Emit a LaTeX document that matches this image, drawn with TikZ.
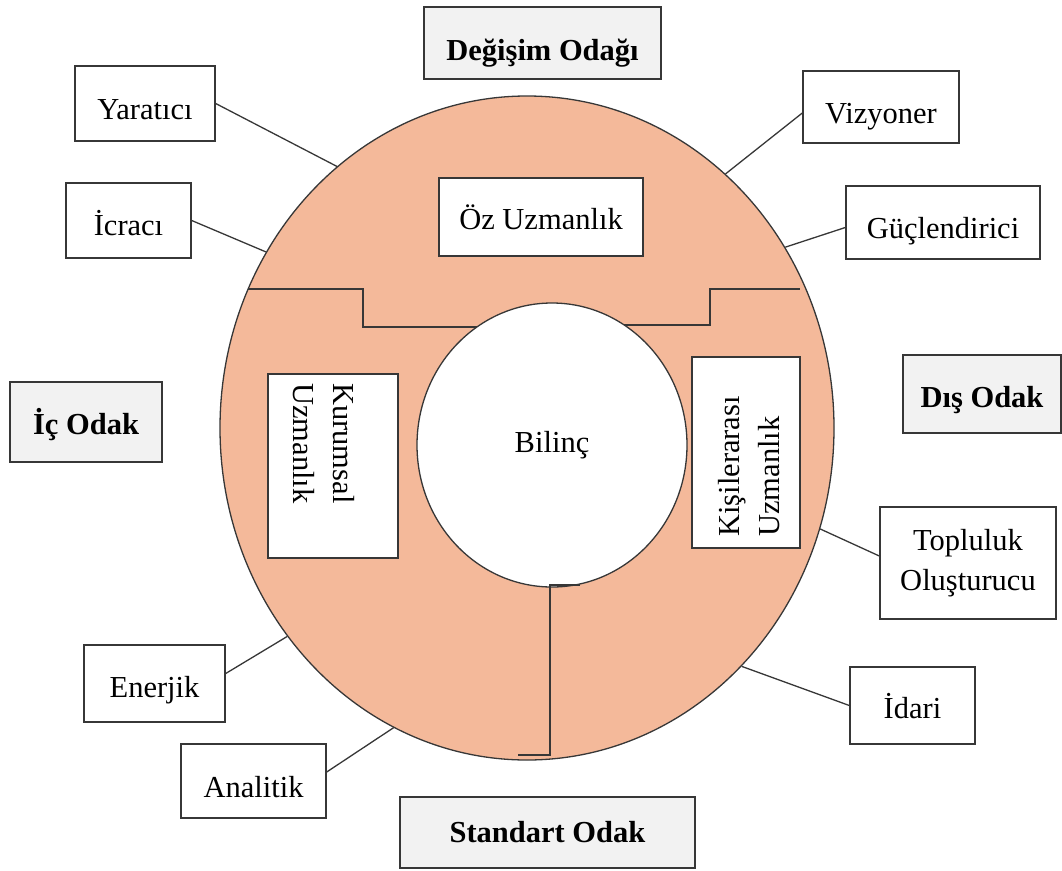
\documentclass[tikz,border=0pt]{standalone}
\usepackage{fontspec}
\setmainfont{Liberation Serif}
\usetikzlibrary{shapes.geometric}
\definecolor{ringfill}{RGB}{244,185,154}
\definecolor{focusfill}{RGB}{242,242,242}
\definecolor{edgeclr}{RGB}{55,55,55}
\begin{document}
\begin{tikzpicture}[x=1pt,y=-1pt,
  every node/.style={font=\fontsize{30.5}{39.5}\selectfont},
  box/.style={draw=edgeclr, line width=1.4pt, fill=white, inner sep=0pt, align=center},
  lift/.style={text height=#1, text depth=0pt},
  focus/.style={box, fill=focusfill, font=\fontsize{30.5}{39.5}\selectfont\bfseries},
  conn/.style={draw=edgeclr, line width=1.3pt},
  divider/.style={draw=edgeclr, line width=1.6pt}]
\useasboundingbox (0,0) rectangle (1062,870);

% outer ring and inner core
\node[ellipse, draw=edgeclr, line width=1.3pt, fill=ringfill, inner sep=0pt,
      minimum width=614pt, minimum height=664pt] (ring) at (527,428) {};
\node[ellipse, draw=edgeclr, line width=1.3pt, fill=white, inner sep=0pt,
      minimum width=270pt, minimum height=284pt] (core) at (552,445) {Bilinç};

% dividing lines of the ring
\draw[divider] (248,289) -| (363,327) -- (477,327);
\draw[divider] (624,325) -| (710,289) -- (800,289);
\draw[divider] (580,585) -- (550,585) -- (550,755) -- (518,755);

% focus labels
\node[focus, minimum width=237pt, minimum height=72pt, lift=34pt] (deg) at (542.5,43) {Değişim Odağı};
\node[focus, minimum width=152pt, minimum height=80pt, lift=24pt] (ic) at (86,422) {İç Odak};
\node[focus, minimum width=158pt, minimum height=78pt, lift=26pt] (dis) at (982,394) {Dış Odak};
\node[focus, minimum width=295pt, minimum height=71pt, lift=19pt] (sta) at (547.5,832.5) {Standart Odak};

% expertise areas inside the ring
\node[box, minimum width=204pt, minimum height=78pt, lift=24pt] (oz) at (541,217) {Öz Uzmanlık};
\node[box, minimum width=130pt, minimum height=184pt] (kur) at (333,466) {};
\node[rotate=-90, anchor=west, align=left, inner sep=0pt] (kurt) at (324,383) {Kurumsal\\Uzmanlık};
\node[box, minimum width=108pt, minimum height=191pt] (kis) at (746,452.5) {};
\node[rotate=90, anchor=west, align=left, inner sep=0pt] (kist) at (749,537) {Kişilerarası\\Uzmanlık};

% roles around the ring
\node[box, minimum width=140pt, minimum height=75pt, lift=32pt] (yar) at (145,103.5) {Yaratıcı};
\node[box, minimum width=125pt, minimum height=75pt, lift=29pt] (icr) at (128.5,220.5) {İcracı};
\node[box, minimum width=156pt, minimum height=72pt, lift=32pt] (viz) at (881,107) {Vizyoner};
\node[box, minimum width=194pt, minimum height=73pt, lift=31pt] (guc) at (943,222.5) {Güçlendirici};
\node[box, minimum width=176pt, minimum height=112pt] (top) at (968,563) {Topluluk\\Oluşturucu};
\node[box, minimum width=141pt, minimum height=77pt, lift=27pt] (ene) at (154.5,683.5) {Enerjik};
\node[box, minimum width=145pt, minimum height=74pt, lift=32pt] (ana) at (253.5,781) {Analitik};
\node[box, minimum width=125pt, minimum height=77pt, lift=25pt] (ida) at (912.5,705.5) {İdari};

% connectors from roles to the ring
\draw[conn] (yar.east) -- (ring.126.5);
\draw[conn] (icr.east) -- (ring.146.4);
\draw[conn] ([yshift=-6pt]viz.west) -- (ring.52.5);
\draw[conn] ([yshift=-5pt]guc.west) -- (ring.35.3);
\draw[conn] ([yshift=7pt]top.west) -- (ring.-19.4);
\draw[conn] (ida.west) -- (ring.-48.4);
\draw[conn] ([yshift=10pt]ene.east) -- (ring.221.8);
\draw[conn] ([yshift=9pt]ana.east) -- (ring.246.6);
\end{tikzpicture}
\end{document}
